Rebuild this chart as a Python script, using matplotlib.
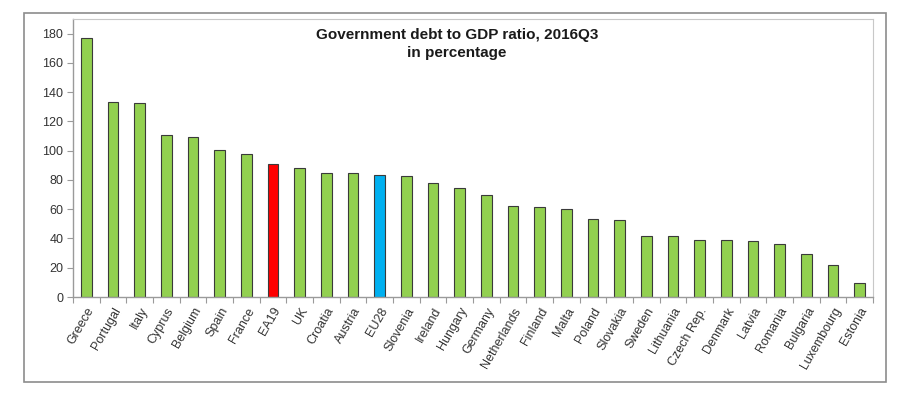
import matplotlib.pyplot as plt
from matplotlib.patches import Rectangle

# Government debt to GDP ratio, 2016Q3 (%)
countries = ["Greece", "Portugal", "Italy", "Cyprus", "Belgium", "Spain", "France",
             "EA19", "UK", "Croatia", "Austria", "EU28", "Slovenia", "Ireland",
             "Hungary", "Germany", "Netherlands", "Finland", "Malta", "Poland",
             "Slovakia", "Sweden", "Lithuania", "Czech Rep.", "Denmark", "Latvia",
             "Romania", "Bulgaria", "Luxembourg", "Estonia"]
debt = [176.9, 133.2, 132.7, 110.5, 109.1, 100.6, 97.6, 90.6, 88.0, 84.8, 84.6,
        83.3, 82.8, 77.6, 74.3, 69.7, 62.0, 61.5, 60.1, 53.3, 52.8, 41.9, 41.4,
        39.1, 39.1, 38.4, 36.0, 29.1, 22.0, 9.5]

green = "#92d050"
colors = [green] * len(countries)
colors[countries.index("EA19")] = "#ff0000"
colors[countries.index("EU28")] = "#00b0f0"

plt.rcParams['font.family'] = ['Liberation Sans', 'DejaVu Sans']

fig = plt.figure(figsize=(9, 3.98), dpi=100)
ax = fig.add_axes([73 / 900, 1 - 297 / 398, 800 / 900, (297 - 19) / 398])

# outer frame
fig.patches.append(Rectangle((24 / 900, 1 - 382 / 398), 862 / 900, 369 / 398,
                             transform=fig.transFigure, fill=False,
                             edgecolor="#8c8c8c", linewidth=1.2))

x = range(len(countries))
ax.bar(x, debt, width=0.4, color=colors, edgecolor="#3a3a3a", linewidth=0.8)

ax.set_xlim(-0.5, len(countries) - 0.5)
ax.set_ylim(0, 190)
ax.set_yticks(range(0, 181, 20))
ax.tick_params(axis='y', labelsize=9, colors="#333333", length=4, width=0.8,
               direction='out', pad=3)
ax.set_xticks(x)
ax.set_xticklabels(countries, rotation=60, ha='right', rotation_mode='anchor',
                   fontsize=9, color="#333333")
ax.tick_params(axis='x', length=0, pad=6)
ax.set_xticks([i + 0.5 for i in range(-1, len(countries))], minor=True)
ax.tick_params(axis='x', which='minor', length=4, width=0.8, color="#9a9a9a")

for side in ['left', 'bottom']:
    ax.spines[side].set_color("#9a9a9a")
    ax.spines[side].set_linewidth(1.0)
for side in ['top', 'right']:
    ax.spines[side].set_color("#c8c8c8")
    ax.spines[side].set_linewidth(0.8)
ax.tick_params(axis='y', color="#9a9a9a")

fig.text(457 / 900, 1 - 44 / 398, "Government debt to GDP ratio, 2016Q3\nin percentage",
         ha='center', va='center', fontsize=11, fontweight='bold', color="#1a1a1a",
         linespacing=1.45)

fig.savefig("out.png", dpi=100)
